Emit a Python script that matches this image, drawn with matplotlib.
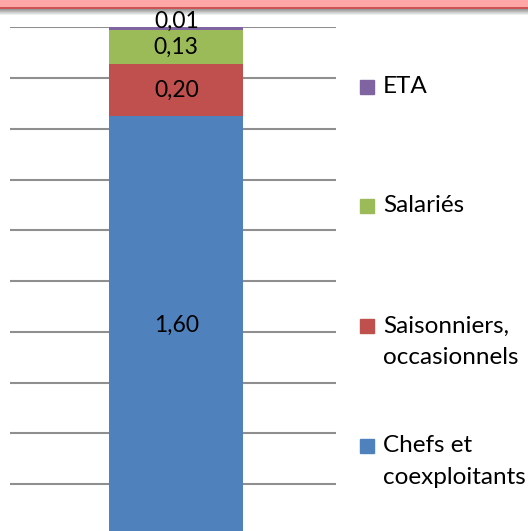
import numpy as np
import matplotlib.pyplot as plt
from matplotlib.patches import Rectangle

# series, bottom to top of the stacked bar
series = ['Chefs et\ncoexploitants', 'Saisonniers,\noccasionnels', 'Salariés', 'ETA']
values = [1.60, 0.20, 0.13, 0.01]
value_labels = ['1,60', '0,20', '0,13', '0,01']
colors = ['#4F81BD', '#C0504D', '#9BBB59', '#8064A2']

plt.rcParams['font.family'] = ['Lato', 'DejaVu Sans']

W, H = 528, 531
fig = plt.figure(figsize=(W / 100, H / 100), dpi=100)

# pink header band with its shadow (drawn first, under everything)
hdr = fig.add_axes([0, 1 - 16 / H, 1, 16 / H])
img = np.ones((16, 1, 3))
img[:7] = [1.0, 0.655, 0.655]
img[7:9] = [0.80, 0.33, 0.33]
img[9:, 0, :] = np.linspace(0.6, 1.0, 7)[:, None]
hdr.imshow(img, aspect='auto', interpolation='nearest', extent=[0, 1, 16, 0])
hdr.axis('off')
hdr.set_zorder(0)

# plot area: top gridline at 27px, baseline just below the picture
ax = fig.add_axes([10 / W, (H - 535) / H, 326 / W, (535 - 27.3) / H])
ax.set_zorder(1)
ax.patch.set_alpha(0)
total = sum(values)
bottom = 0
for v, lab, c in zip(values, value_labels, colors):
    ax.bar(0.01, v, width=0.41, bottom=bottom, color=c, zorder=3)
    if v < 0.05:
        ax.annotate(lab, (0.01, bottom + v / 2), xytext=(0, 5), textcoords='offset points',
                    ha='center', va='center', fontsize=16.5, color='black', zorder=4,
                    annotation_clip=False)
    else:
        ax.text(0.01, bottom + v / 2, lab, ha='center', va='center',
                fontsize=16.5, color='black', zorder=4)
    bottom += v

ax.set_xlim(-0.5, 0.5)
ax.set_ylim(0, total)
ax.set_yticks(np.linspace(0, total, 11))
ax.set_xticks([])
ax.tick_params(left=False, labelleft=False)
ax.grid(axis='y', color='#8f8f8f', lw=1.5, zorder=0)
for s in ax.spines.values():
    s.set_visible(False)

# legend, drawn by hand (top entry first)
leg_y = [87, 206, 326, 446]
for name, c, y in zip(series[::-1], colors[::-1], leg_y):
    fig.patches.append(Rectangle((360 / W, 1 - (y + 7) / H), 14 / W, 14 / H,
                                 transform=fig.transFigure, color=c))
    for i, line in enumerate(name.split('\n')):
        fig.text(383 / W, 1 - (y + i * 32) / H, line, ha='left', va='center',
                 fontsize=17.5, color='black')

fig.savefig('out.png', dpi=100)
